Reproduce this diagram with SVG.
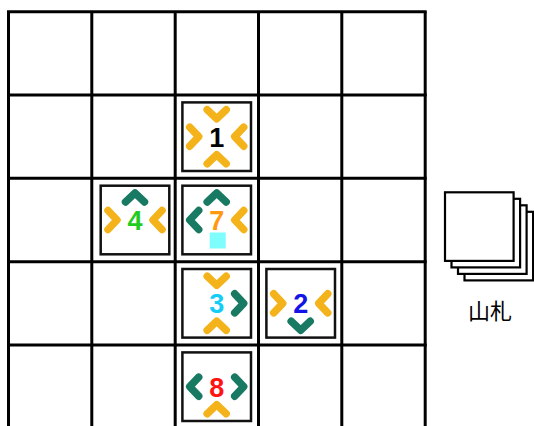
<svg xmlns="http://www.w3.org/2000/svg" xmlns:xlink="http://www.w3.org/1999/xlink" width="534" height="426" viewBox="0 0 534 426">
  <style>
    .grid line { stroke: #000; stroke-width: 3; }
    .card { fill: #fff; stroke: #111; stroke-width: 2.5; }
    .deck { fill: #fff; stroke: #000; stroke-width: 2.2; }
    .o { stroke: #f4b31a; }
    .t { stroke: #187a62; }
    .num { font-family: "Liberation Sans", Arial, sans-serif; font-size: 27px; font-weight: bold; text-anchor: middle; }
    .lbl { font-family: "Noto Sans CJK JP", "Liberation Sans", sans-serif; font-size: 22px; text-anchor: middle; fill: #000; }
  </style>
  <defs>
    <path id="chev" d="M-9.5,-4.5 L0,4.5 L9.5,-4.5" fill="none" stroke-width="7.5" stroke-linecap="round" stroke-linejoin="round"/>
  </defs>
  <rect width="534" height="426" fill="#fff"/>
  <g id="board" class="grid">
    <line x1="8.5" y1="11.7" x2="8.5" y2="430"/>
    <line x1="91.8" y1="11.7" x2="91.8" y2="430"/>
    <line x1="175.2" y1="11.7" x2="175.2" y2="430"/>
    <line x1="258.5" y1="11.7" x2="258.5" y2="430"/>
    <line x1="341.8" y1="11.7" x2="341.8" y2="430"/>
    <line x1="425.2" y1="11.7" x2="425.2" y2="430"/>
    <line x1="7" y1="11.7" x2="426.7" y2="11.7"/>
    <line x1="7" y1="95" x2="426.7" y2="95"/>
    <line x1="7" y1="178.3" x2="426.7" y2="178.3"/>
    <line x1="7" y1="261.7" x2="426.7" y2="261.7"/>
    <line x1="7" y1="345" x2="426.7" y2="345"/>
  </g>

  <g id="card1" transform="translate(216.7,136.7)">
    <rect class="card" x="-34.3" y="-34.3" width="68.6" height="68.6"/>
    <use xlink:href="#chev" class="o" transform="translate(0,-22.5)"/>
    <use xlink:href="#chev" class="o" transform="translate(0,22.5) rotate(180)"/>
    <use xlink:href="#chev" class="o" transform="translate(-22.5,0) rotate(-90)"/>
    <use xlink:href="#chev" class="o" transform="translate(22.5,0) rotate(90)"/>
    <text class="num" x="0" y="10" fill="#000">1</text>
  </g>

  <g id="card4" transform="translate(135,220)">
    <rect class="card" x="-34.3" y="-34.3" width="68.6" height="68.6"/>
    <use xlink:href="#chev" class="t" transform="translate(0,-22.5) rotate(180)"/>
    <use xlink:href="#chev" class="o" transform="translate(-22.5,0) rotate(-90)"/>
    <use xlink:href="#chev" class="o" transform="translate(22.5,0) rotate(90)"/>
    <text class="num" x="0" y="10" fill="#1fcc1f">4</text>
  </g>

  <g id="card7" transform="translate(216.7,220)">
    <rect class="card" x="-34.3" y="-34.3" width="68.6" height="68.6"/>
    <use xlink:href="#chev" class="t" transform="translate(0,-22.5) rotate(180)"/>
    <use xlink:href="#chev" class="t" transform="translate(-22.5,0) rotate(90)"/>
    <use xlink:href="#chev" class="o" transform="translate(22.5,0) rotate(90)"/>
    <text class="num" x="0" y="10" fill="#ff9a10">7</text>
    <rect x="-7" y="12.5" width="16" height="16" fill="#7ffcfc"/>
  </g>

  <g id="card3" transform="translate(216.7,303.3)">
    <rect class="card" x="-34.3" y="-34.3" width="68.6" height="68.6"/>
    <use xlink:href="#chev" class="o" transform="translate(0,-22.5)"/>
    <use xlink:href="#chev" class="o" transform="translate(0,22.5) rotate(180)"/>
    <use xlink:href="#chev" class="t" transform="translate(22.5,0) rotate(-90)"/>
    <text class="num" x="0" y="10" fill="#14ccf5">3</text>
  </g>

  <g id="card2" transform="translate(300.7,303.3)">
    <rect class="card" x="-34.3" y="-34.3" width="68.6" height="68.6"/>
    <use xlink:href="#chev" class="o" transform="translate(-22.5,0) rotate(-90)"/>
    <use xlink:href="#chev" class="o" transform="translate(22.5,0) rotate(90)"/>
    <use xlink:href="#chev" class="t" transform="translate(0,22.5)"/>
    <text class="num" x="0" y="10" fill="#1414e6">2</text>
  </g>

  <g id="card8" transform="translate(216.7,386.7)">
    <rect class="card" x="-34.3" y="-34.3" width="68.6" height="68.6"/>
    <use xlink:href="#chev" class="t" transform="translate(-22.5,0) rotate(90)"/>
    <use xlink:href="#chev" class="t" transform="translate(22.5,0) rotate(-90)"/>
    <use xlink:href="#chev" class="o" transform="translate(0,22.5) rotate(180)"/>
    <text class="num" x="0" y="10" fill="#ff1414">8</text>
  </g>

  <g id="deck">
    <rect class="deck" x="464.5" y="211.8" width="68.6" height="68.6"/>
    <rect class="deck" x="458" y="205.3" width="68.6" height="68.6"/>
    <rect class="deck" x="451.5" y="198.8" width="68.6" height="68.6"/>
    <rect class="deck" x="445" y="192.3" width="68.6" height="68.6"/>
    <text class="lbl" x="490" y="319">山札</text>
  </g>
</svg>
